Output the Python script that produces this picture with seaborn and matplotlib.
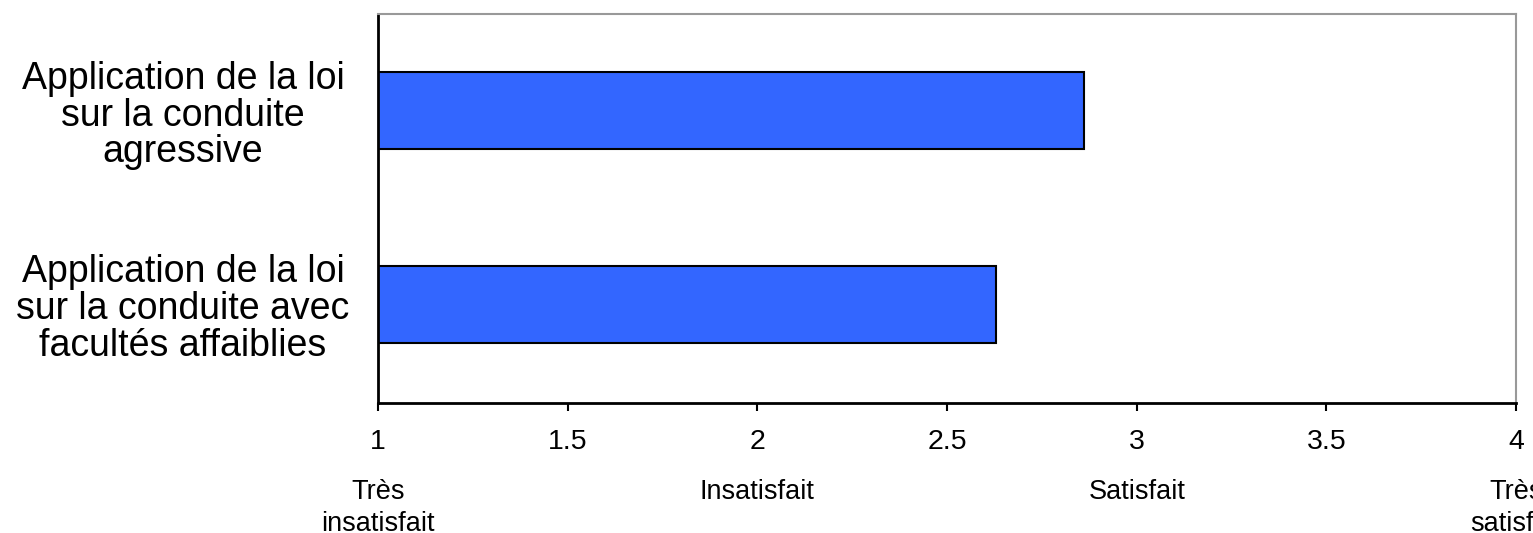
import matplotlib
matplotlib.use("Agg")
import matplotlib.pyplot as plt
import seaborn as sns
import pandas as pd

categories = [
    "Application de la loi\nsur la conduite\nagressive",
    "Application de la loi\nsur la conduite avec\nfacultés affaiblies",
]
scores = [2.86, 2.63]
tick_values = [1, 1.5, 2, 2.5, 3, 3.5, 4]
scale_positions = [1, 2, 3, 4]
scale_labels = ["Très\ninsatisfait", "Insatisfait", "Satisfait", "Très\nsatisfait"]

sns.set_theme(style="white")
plt.rcParams["font.family"] = ["Liberation Sans", "DejaVu Sans"]
plt.rcParams["text.color"] = "black"
plt.rcParams["xtick.color"] = "black"
plt.rcParams["ytick.color"] = "black"

df = pd.DataFrame({"item": categories, "score": scores})

fig = plt.figure(figsize=(15.33, 5.33), dpi=100)
ax = fig.add_axes([0.2466, 0.2439, 0.7424, 0.7298])

sns.barplot(data=df, x="score", y="item", orient="h", color="#3366FF",
            saturation=1, width=0.4, edgecolor="black", linewidth=1.5, ax=ax)

ax.set_xlim(1, 4)
ax.set_ylim(1.51, -0.5)
ax.set_xticks(tick_values)
ax.set_xticklabels([f"{v:g}" for v in tick_values], fontsize=20.5)
ax.set_xlabel("")
ax.set_ylabel("")
ax.tick_params(axis="x", direction="out", length=6, width=1.5, color="black",
               bottom=True, pad=13)
ax.tick_params(axis="y", length=0)
ax.set_yticklabels([])

# category labels, each block centred in the margin left of the plot
for i, label in enumerate(categories):
    ax.text(-0.1714, i + 0.025, label, transform=ax.get_yaxis_transform(),
            ha="center", va="center", multialignment="center",
            fontsize=27, linespacing=1.03, clip_on=False)

for side in ("left", "bottom"):
    ax.spines[side].set_color("black")
    ax.spines[side].set_linewidth(2)
for side in ("top", "right"):
    ax.spines[side].set_color("#999999")
    ax.spines[side].set_linewidth(1.5)

# verbal scale under the numeric ticks
trans = ax.get_xaxis_transform()
for pos, text in zip(scale_positions, scale_labels):
    ax.text(pos, -0.195, text, transform=trans, ha="center", va="top",
            fontsize=19.5, linespacing=1.3, clip_on=False)

fig.savefig("out.png", dpi=100, facecolor="white")
